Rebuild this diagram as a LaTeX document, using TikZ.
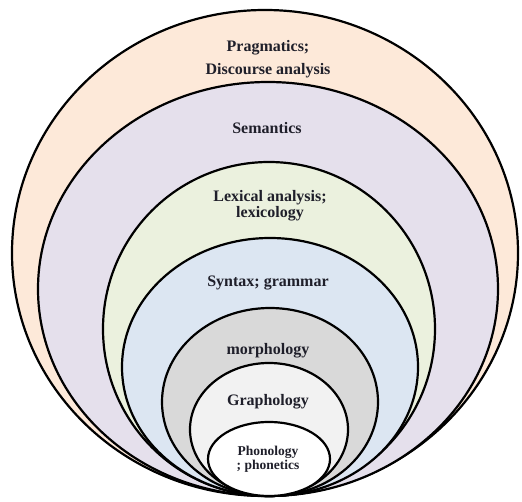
\documentclass[tikz,border=0pt]{standalone}
\usepackage{fontspec}
\setmainfont{Liberation Serif}
\usetikzlibrary{positioning}
\definecolor{pragfill}{HTML}{FDE9D9}
\definecolor{semfill}{HTML}{E5E0EC}
\definecolor{lexfill}{HTML}{EBF1DE}
\definecolor{synfill}{HTML}{DCE6F2}
\definecolor{morfill}{HTML}{D9D9D9}
\definecolor{grafill}{HTML}{F2F2F2}
\definecolor{phofill}{HTML}{FFFFFF}
\definecolor{inktext}{HTML}{1F1F2A}

\begin{document}
\begin{tikzpicture}[x=1pt, y=-1pt,
    ring/.style={draw=black, line width=2.2pt},
    lbl/.style={font=\fontsize{16}{16}\selectfont\bfseries, text=inktext,
                align=center, inner sep=0pt},
  ]
  \useasboundingbox (0,0) rectangle (522,502);

  % nested rings, all touching at the bottom point
  \foreach \cx/\rx/\ry/\col in {265/253/243/pragfill, 268/230/207/semfill,
      269/166/167/lexfill, 270/148/129/synfill, 270/108/94/morfill,
      269/79/66.5/grafill, 269/61/37/phofill} {
    \filldraw[ring, fill=\col] (\cx,{496-\ry}) ellipse ({\rx pt} and {\ry pt});
  }

  % level names
  \node[lbl, font=\fontsize{16}{23}\selectfont\bfseries] (prag) at (268,59.5)
    {Pragmatics;\\Discourse analysis};
  \node[lbl] (sem) at (267,128) {Semantics};
  \node[lbl, font=\fontsize{16}{15.5}\selectfont\bfseries] (lex) at (270,205.5)
    {Lexical analysis;\\lexicology};
  \node[lbl] (syn) at (268,283) {Syntax; grammar};
  \node[lbl] (mor) at (268,351) {morphology};
  \node[lbl] (gra) at (268,402) {Graphology};
  \node[lbl, font=\fontsize{13.5}{14}\selectfont\bfseries] (pho) at (268,459)
    {Phonology\\; phonetics};

\end{tikzpicture}
\end{document}
